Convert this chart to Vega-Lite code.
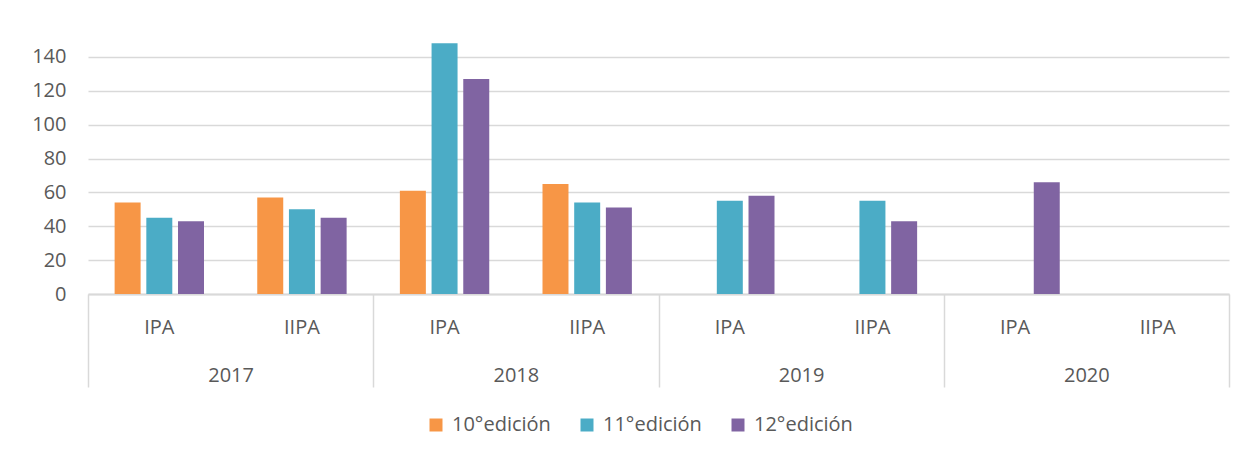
{
  "$schema": "https://vega.github.io/schema/vega-lite/v6.json",
  "width": 1141,
  "height": 271,
  "autosize": {"type": "none"},
  "padding": {"left": 88, "top": 23, "right": 19, "bottom": 159},
  "background": "white",
  "config": {
    "font": "Open Sans",
    "view": {"stroke": null},
    "axis": {"labelFont": "Open Sans", "labelFontSize": 20, "labelColor": "#595959", "title": null}
  },
  "data": {
    "values": [
      {"year": "2017", "cat": "2017 IPA", "edicion": "10°edición", "value": 54},
      {"year": "2017", "cat": "2017 IPA", "edicion": "11°edición", "value": 45},
      {"year": "2017", "cat": "2017 IPA", "edicion": "12°edición", "value": 43},
      {"year": "2017", "cat": "2017 IIPA", "edicion": "10°edición", "value": 57},
      {"year": "2017", "cat": "2017 IIPA", "edicion": "11°edición", "value": 50},
      {"year": "2017", "cat": "2017 IIPA", "edicion": "12°edición", "value": 45},
      {"year": "2018", "cat": "2018 IPA", "edicion": "10°edición", "value": 61},
      {"year": "2018", "cat": "2018 IPA", "edicion": "11°edición", "value": 148},
      {"year": "2018", "cat": "2018 IPA", "edicion": "12°edición", "value": 127},
      {"year": "2018", "cat": "2018 IIPA", "edicion": "10°edición", "value": 65},
      {"year": "2018", "cat": "2018 IIPA", "edicion": "11°edición", "value": 54},
      {"year": "2018", "cat": "2018 IIPA", "edicion": "12°edición", "value": 51},
      {"year": "2019", "cat": "2019 IPA", "edicion": "11°edición", "value": 55},
      {"year": "2019", "cat": "2019 IPA", "edicion": "12°edición", "value": 58},
      {"year": "2019", "cat": "2019 IIPA", "edicion": "11°edición", "value": 55},
      {"year": "2019", "cat": "2019 IIPA", "edicion": "12°edición", "value": 43},
      {"year": "2020", "cat": "2020 IPA", "edicion": "12°edición", "value": 66}
    ]
  },
  "layer": [
    {
      "mark": {"type": "bar"},
      "encoding": {
        "x": {
          "field": "cat", "type": "nominal",
          "scale": {"domain": ["2017 IPA", "2017 IIPA", "2018 IPA", "2018 IIPA", "2019 IPA", "2019 IIPA", "2020 IPA", "2020 IIPA"], "paddingInner": 0, "paddingOuter": 0},
          "axis": {"orient": "bottom", "title": null, "labelExpr": "split(datum.value, ' ')[1]", "ticks": false, "domainColor": "#d9d9d9", "domainWidth": 2, "labelPadding": 33, "labelBaseline": "middle", "labelAngle": 0, "grid": false}
        },
        "xOffset": {
          "field": "edicion", "type": "nominal",
          "scale": {"domain": ["10°edición", "11°edición", "12°edición"], "paddingInner": 0.18, "paddingOuter": 0.84}
        },
        "y": {
          "field": "value", "type": "quantitative",
          "scale": {"domain": [0, 160], "nice": false},
          "axis": {"title": null, "values": [0, 20, 40, 60, 80, 100, 120, 140], "domain": false, "ticks": false, "labelPadding": 22, "gridColor": "#d9d9d9", "gridWidth": 1.5}
        },
        "color": {
          "field": "edicion", "type": "nominal",
          "scale": {"domain": ["10°edición", "11°edición", "12°edición"], "range": ["#F79646", "#4BACC6", "#8064A2"]},
          "legend": {"title": null, "orient": "none", "legendX": 338, "legendY": 392, "direction": "horizontal", "symbolType": "square", "symbolSize": 169, "symbolStrokeWidth": 0, "labelFontSize": 20, "labelColor": "#595959", "labelFont": "Open Sans", "columnPadding": 26, "labelOffset": 6}
        }
      }
    },
    {
      "mark": {"type": "rule", "opacity": 0},
      "encoding": {
        "x": {
          "field": "year", "type": "nominal",
          "scale": {"domain": ["2017", "2018", "2019", "2020"], "paddingInner": 0, "paddingOuter": 0},
          "axis": {"orient": "bottom", "title": null, "domain": false, "ticks": true, "tickBand": "extent", "tickSize": 93, "tickColor": "#d9d9d9", "tickWidth": 1.5, "labelPadding": -12, "labelBaseline": "middle", "labelAngle": 0, "grid": false}
        }
      }
    }
  ],
  "resolve": {"scale": {"x": "independent"}}
}
